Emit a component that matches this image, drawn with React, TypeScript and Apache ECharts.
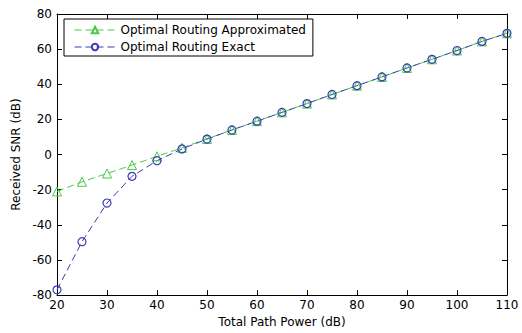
import React, { useEffect, useRef } from "react";
import * as echarts from "echarts";

const xValues = [20, 25, 30, 35, 40, 45, 50, 55, 60, 65, 70, 75, 80, 85, 90, 95, 100, 105, 110];
const approxSNR = [-21, -15.5, -10.8, -6, -1, 3.8, 8.9, 14, 19, 24, 29, 34.2, 39.2, 44.2, 49.3, 54.2, 59.2, 64.4, 69];
const exactSNR = [-77, -49.6, -27.6, -12.4, -3.5, 3.2, 8.8, 14, 19, 24, 29, 34.2, 39.2, 44.2, 49.3, 54.2, 59.2, 64.4, 69];
const seriesNames = ["Optimal Routing Approximated", "Optimal Routing Exact"];
const xTitle = "Total Path Power (dB)";
const yTitle = "Received SNR (dB)";

const GREEN = "#44cc44";
const BLUE = "#3c3cb4";
const FONT = "DejaVu Sans";

export default function App() {
  const ref = useRef<HTMLDivElement>(null);
  useEffect(() => {
    document.body.style.margin = "0";
    const chart = echarts.init(ref.current!, null, { renderer: "svg" });
    const axisLine = { show: true, onZero: false, lineStyle: { color: "#000", width: 1 } };
    const tick = { show: true, inside: true, length: 5, lineStyle: { color: "#000" } };
    const label = { color: "#000", fontFamily: FONT, fontSize: 12 };
    chart.setOption({
      animation: false,
      backgroundColor: "#fff",
      grid: { left: 57, right: 15, top: 14, bottom: 31 },
      legend: {
        left: 64,
        top: 19,
        orient: "vertical",
        borderColor: "#000",
        borderWidth: 1,
        backgroundColor: "#fff",
        padding: [4, 7, 2, 10],
        itemGap: 3,
        itemWidth: 41,
        itemHeight: 8,
        lineStyle: { width: 1 },
        textStyle: { color: "#000", fontFamily: FONT, fontSize: 12, lineHeight: 14 },
        data: seriesNames,
      },
      xAxis: [
        {
          type: "value",
          min: 20,
          max: 110,
          interval: 10,
          axisLine,
          axisTick: tick,
          axisLabel: { ...label, margin: 4 },
          splitLine: { show: false },
          name: xTitle,
          nameLocation: "middle",
          nameGap: 17,
          nameTextStyle: label,
        },
        {
          type: "value",
          position: "top",
          min: 20,
          max: 110,
          interval: 10,
          axisLine,
          axisTick: tick,
          axisLabel: { show: false },
          splitLine: { show: false },
        },
      ],
      yAxis: [
        {
          type: "value",
          min: -80,
          max: 80,
          interval: 20,
          axisLine,
          axisTick: tick,
          axisLabel: { ...label, margin: 5 },
          splitLine: { show: false },
          name: yTitle,
          nameLocation: "middle",
          nameGap: 33,
          nameTextStyle: label,
        },
        {
          type: "value",
          position: "right",
          min: -80,
          max: 80,
          interval: 20,
          axisLine,
          axisTick: tick,
          axisLabel: { show: false },
          splitLine: { show: false },
        },
      ],
      series: [
        {
          name: seriesNames[0],
          type: "line",
          data: xValues.map((x, i) => [x, approxSNR[i]]),
          symbol: "triangle",
          symbolSize: 9,
          itemStyle: { color: "rgba(255,255,255,0)", borderColor: GREEN, borderWidth: 1 },
          lineStyle: { color: GREEN, width: 1, type: [7, 4] },
          emphasis: { disabled: true },
        },
        {
          name: seriesNames[1],
          type: "line",
          data: xValues.map((x, i) => [x, exactSNR[i]]),
          symbol: "circle",
          symbolSize: 8,
          itemStyle: { color: "rgba(255,255,255,0)", borderColor: BLUE, borderWidth: 1.2 },
          lineStyle: { color: BLUE, width: 1, type: [7, 4] },
          emphasis: { disabled: true },
        },
      ],
    });
    return () => chart.dispose();
  }, []);
  return <div ref={ref} style={{ width: 522, height: 333 }} />;
}
